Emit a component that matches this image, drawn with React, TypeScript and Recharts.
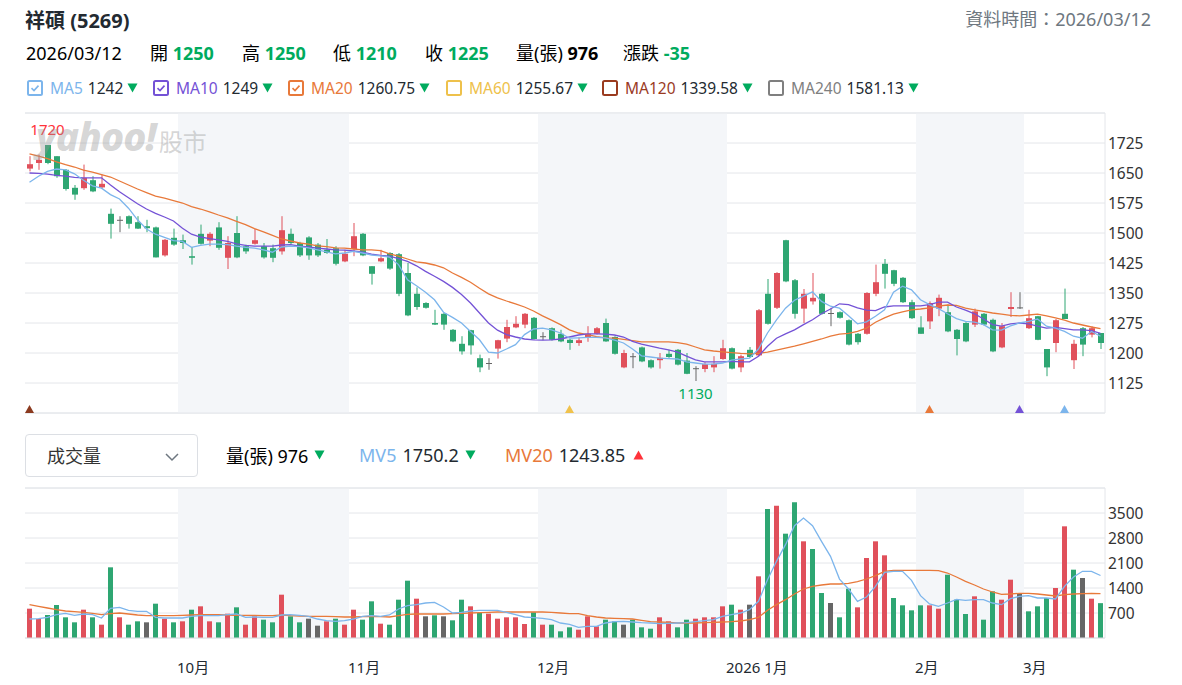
import React from 'react';
import {
  ComposedChart, Bar, Line, XAxis, YAxis, CartesianGrid,
  ReferenceArea, ReferenceLine, ReferenceDot, Cell,
} from 'recharts';

const FONT = '"Noto Sans", "Noto Sans CJK TC", sans-serif';
const RED = '#e0505b';
const GREEN = '#2ea672';
const GRAY = '#666666';
const UP_TXT = '#ff333a';
const DOWN_TXT = '#00ab5e';
const GRID = '#e4e6ea';
const SHADE = '#f4f6f9';
const MA5_C = '#7cb5ec';
const MA10_C = '#7452d6';
const MA20_C = '#e8793a';

// daily candles, 120 trading days ending 2026/03/12
const OPEN = [1661,1675,1720,1692,1658,1613,1612,1632,1614,1548, 1533,1542,1527,1517,1514,1444,1488,1482,1442,1498,
  1481,1514,1438,1500,1467,1473,1467,1462,1454,1498, 1475,1489,1471,1458,1462,1429,1460,1498,1417,1429,
  1450,1447,1400,1348,1325,1275,1298,1258,1223,1257, 1187,1175,1211,1236,1264,1271,1288,1242,1262,1248,
  1233,1225,1239,1248,1275,1240,1164,1192,1214,1182, 1182,1198,1208,1181,1162,1160,1164,1185,1212,1164,
  1208,1194,1348,1313,1482,1382,1311,1329,1348,1300, 1302,1282,1248,1248,1348,1423,1407,1388,1327,1264,
  1279,1311,1302,1258,1275,1271,1298,1283,1214,1310, 1314,1262,1292,1210,1225,1298,1182,1262,1246,1250];
const HIGH = [1692,1696,1720,1692,1660,1620,1671,1642,1646,1561, 1542,1544,1542,1533,1516,1485,1511,1496,1465,1521,
  1502,1527,1492,1542,1471,1510,1475,1471,1542,1511, 1478,1492,1475,1485,1467,1458,1525,1500,1417,1458,
  1452,1450,1425,1364,1327,1308,1300,1260,1242,1258, 1196,1187,1233,1283,1292,1300,1290,1252,1264,1258,
  1235,1239,1267,1265,1286,1242,1208,1200,1216,1184, 1200,1208,1210,1200,1167,1177,1192,1233,1214,1196,
  1215,1310,1385,1402,1483,1385,1360,1400,1350,1313, 1304,1284,1250,1352,1421,1435,1408,1390,1333,1292,
  1329,1346,1321,1260,1277,1311,1300,1286,1275,1352, 1352,1308,1293,1210,1285,1361,1233,1265,1267,1250];
const LOW = [1654,1658,1672,1638,1606,1583,1608,1602,1610,1486, 1502,1511,1510,1502,1439,1441,1468,1460,1421,1471,
  1467,1458,1410,1437,1448,1471,1436,1427,1446,1471, 1440,1433,1440,1448,1419,1427,1442,1442,1371,1427,
  1408,1342,1292,1308,1311,1270,1258,1227,1196,1196, 1152,1158,1186,1227,1262,1262,1233,1232,1231,1227,
  1208,1218,1228,1246,1228,1196,1162,1162,1177,1161, 1161,1188,1169,1147,1130,1152,1152,1183,1159,1152,
  1188,1192,1271,1310,1377,1286,1275,1321,1296,1267, 1286,1219,1221,1246,1342,1361,1367,1325,1285,1248,
  1260,1292,1252,1194,1227,1265,1269,1202,1212,1290, 1310,1260,1232,1142,1202,1285,1160,1192,1239,1210];
const CLOSE = [1672,1683,1675,1642,1610,1596,1638,1604,1623,1523, 1533,1523,1511,1512,1439,1483,1471,1475,1438,1473,
  1498,1463,1475,1439,1454,1482,1439,1438,1507,1475, 1444,1444,1444,1450,1423,1448,1492,1444,1398,1437,
  1411,1348,1294,1315,1313,1271,1271,1229,1204,1219, 1164,1175,1232,1265,1273,1298,1235,1242,1233,1229,
  1225,1232,1248,1262,1229,1198,1200,1192,1179,1164, 1188,1190,1171,1148,1162,1172,1173,1212,1161,1192,
  1190,1307,1273,1400,1379,1298,1348,1338,1298,1300, 1288,1221,1227,1350,1377,1398,1373,1327,1287,1248,
  1325,1338,1254,1235,1229,1304,1271,1204,1267,1315, 1314,1287,1233,1164,1282,1285,1223,1221,1262,1225];

const MA5 = [1627,1642,1654,1660,1658,1648,1632,1618,1612,1596, 1585,1562,1533,1510,1497,1489,1481,1479,1464,1469,
  1472,1472,1471,1467,1464,1462,1458,1452,1465,1467, 1466,1463,1458,1453,1448,1450,1454,1450,1445,1443,
  1440,1421,1383,1368,1352,1333,1302,1289,1275,1254, 1233,1202,1200,1210,1221,1246,1260,1262,1258,1250,
  1237,1238,1239,1239,1238,1232,1225,1210,1193,1190, 1187,1186,1185,1178,1175,1172,1172,1175,1182,1185,
  1187,1210,1250,1283,1312,1332,1342,1353,1329,1317, 1312,1293,1273,1278,1292,1308,1352,1367,1358,1333,
  1321,1311,1298,1286,1279,1277,1271,1258,1257,1268, 1275,1279,1285,1267,1262,1254,1242,1237,1254,1242];
const MA10 = [1650,1649,1647,1644,1642,1639,1638,1638,1638,1620, 1603,1588,1573,1560,1549,1540,1530,1512,1497,1490,
  1486,1483,1479,1473,1469,1467,1467,1467,1470,1471, 1467,1465,1462,1460,1458,1457,1455,1452,1447,1444,
  1442,1436,1429,1418,1404,1392,1379,1364,1346,1325, 1300,1275,1257,1246,1240,1235,1233,1232,1233,1235,
  1240,1245,1248,1248,1247,1245,1240,1229,1222,1217, 1212,1208,1202,1192,1183,1178,1178,1178,1179,1178,
  1178,1192,1217,1237,1248,1258,1271,1283,1298,1310, 1323,1321,1313,1307,1306,1315,1318,1318,1318,1318,
  1321,1327,1327,1315,1307,1298,1285,1271,1267,1273, 1275,1273,1267,1262,1264,1261,1258,1258,1256,1249];
const MA20 = [1698,1692,1686,1678,1671,1665,1657,1652,1646,1640, 1630,1620,1610,1601,1592,1587,1581,1575,1566,1560,
  1553,1545,1538,1529,1521,1511,1503,1494,1485,1480, 1475,1472,1468,1466,1463,1462,1460,1458,1458,1456,
  1448,1442,1435,1428,1425,1420,1413,1400,1389,1377, 1362,1348,1338,1330,1323,1315,1305,1293,1282,1271,
  1258,1250,1246,1241,1238,1237,1234,1231,1228,1228, 1228,1228,1226,1222,1215,1208,1205,1203,1201,1199,
  1198,1199,1202,1207,1212,1217,1223,1229,1235,1242, 1247,1249,1254,1262,1277,1288,1297,1303,1308,1310,
  1313,1317,1320,1319,1312,1308,1304,1300,1297,1294, 1293,1295,1297,1293,1288,1282,1275,1270,1265,1261];

// volume (張), and its colour: u = up vs previous close, d = down, n = flat
const VOLUME = [821,532,644,924,579,439,793,579,373,1979, 579,373,467,439,961,541,439,467,793,887,
  467,439,681,859,373,607,513,439,1213,607, 439,541,345,467,541,373,793,513,1027,401,
  373,1073,1605,1101,607,635,607,495,1073,887, 700,681,541,579,579,392,719,373,373,187,
  299,233,607,327,513,467,373,513,299,261, 579,467,299,513,541,579,579,887,933,793,
  933,1727,3612,3705,2921,3799,2707,2492,1260,980, 579,1381,859,2240,2707,2315,1120,915,775,915,
  915,821,1773,1073,672,1167,513,1307,1073,1633, 1232,747,887,1120,1400,3127,1913,1680,1101,976];
const VOL_DIR = ('uuddddudud uddndududu ududuuddud dnnuduuddu dddundnddu ' +
  'duuuuududd duuuddnddd uudduuuudu nududduddn dduuuudddd uudddudduu nddduudnud').replace(/ /g, '');
const MV5 = [532,541,579,653,691,635,672,653,560,831, 859,775,747,747,579,560,560,560,607,625,
  625,625,653,672,579,588,579,579,644,653, 635,607,532,485,467,485,532,607,625,607,
  644,812,905,933,980,999,868,700,719,756, 775,775,775,719,653,588,569,551,513,420,
  383,299,327,327,420,457,467,448,429,420, 401,411,420,429,457,485,513,607,653,700,
  793,1027,1633,2147,2613,3145,3360,3145,2707,2287, 1650,1372,1027,1148,1447,1839,1867,1867,1615,1185,
  952,887,980,1083,1055,1073,1073,980,933,1101, 1167,1185,1120,1120,1092,1447,1708,1867,1867,1750];
const MV20 = [933,887,840,793,756,737,719,691,653,681, 700,672,644,625,625,625,625,635,644,653,
  653,653,644,635,635,635,625,625,644,625, 616,607,607,607,597,588,588,597,607,597,
  588,625,663,672,672,672,672,681,691,700, 709,719,728,728,728,728,728,728,719,700,
  681,681,625,588,560,551,541,532,495,457, 448,439,420,420,420,429,439,448,457,476,
  513,579,775,933,1073,1232,1372,1447,1484,1512, 1512,1531,1577,1652,1745,1867,1895,1895,1895,1895,
  1895,1885,1820,1708,1587,1484,1372,1288,1223,1232, 1251,1251,1232,1204,1176,1213,1232,1241,1251,1244];

const MONTH_START = [17, 36, 57, 78, 99, 111];
const MONTH_LABEL = ['10月', '11月', '12月', '2026 1月', '2月', '3月'];
const SHADED_MONTHS = [[17, 35], [57, 77], [99, 110]];
const PRICE_TICKS = [1125, 1200, 1275, 1350, 1425, 1500, 1575, 1650, 1725];
const PRICE_DOMAIN = [1050, 1800];
const VOL_TICKS = [700, 1400, 2100, 2800, 3500];
const VOL_DOMAIN = [0, 4200];
const SIGNAL_IDX = [0, 60, 100, 110, 115];
const SIGNAL_COLOR = ['#8b3a1f', '#f0c24c', '#e8793a', '#7452d6', '#7cb5ec'];

const QUOTE_DATE = '2026/03/12';
const QUOTE_LABELS = ['開', '高', '低', '收', '量(張)', '漲跌'];
const QUOTE_VALUES = ['1250', '1250', '1210', '1225', '976', '-35'];
const QUOTE_COLORS = [DOWN_TXT, DOWN_TXT, DOWN_TXT, DOWN_TXT, '#000', DOWN_TXT];
const QUOTE_LEFT = [150, 242, 333, 425, 516, 623];

const MA_NAMES = ['MA5', 'MA10', 'MA20', 'MA60', 'MA120', 'MA240'];
const MA_VALUES = ['1242', '1249', '1260.75', '1255.67', '1339.58', '1581.13'];
const MA_COLORS = [MA5_C, MA10_C, MA20_C, '#eec14b', '#9a3b1f', '#7f7f7f'];
const MA_CHECKED = [true, true, true, false, false, false];
const MA_LEFT = [27, 153, 288, 446, 602, 768];

const data = OPEN.map((open, i) => {
  const s = SIGNAL_IDX.indexOf(i);
  return {
    idx: i, open, high: HIGH[i], low: LOW[i], close: CLOSE[i],
    range: [LOW[i], HIGH[i]],
    ma5: MA5[i], ma10: MA10[i], ma20: MA20[i],
    vol: VOLUME[i], dir: VOL_DIR[i], mv5: MV5[i], mv20: MV20[i],
    signal: s >= 0 ? PRICE_DOMAIN[0] : null,
    signalColor: s >= 0 ? SIGNAL_COLOR[s] : null,
  };
});

const hiIdx = HIGH.indexOf(Math.max(...HIGH));
const loIdx = LOW.indexOf(Math.min(...LOW));

function Candle(props: any) {
  const { x, y, width, height, payload } = props;
  if (!payload || height == null) return null;
  const { open, close, high, low } = payload;
  const color = close > open ? RED : close < open ? GREEN : GRAY;
  const k = height / (high - low);
  const cx = x + width / 2;
  const top = y + (high - Math.max(open, close)) * k;
  const h = Math.max(Math.abs(open - close) * k, 1);
  return (
    <g>
      <line x1={cx} x2={cx} y1={y} y2={y + height} stroke={color} strokeWidth={1} />
      <rect x={x} y={top} width={width} height={h} fill={color} />
    </g>
  );
}

function SignalDot(props: any) {
  const { cx, cy, payload, index } = props;
  if (!payload || payload.signal == null || cy == null) return <g key={index} />;
  return <path key={index} d={`M${cx - 4.5},${cy} L${cx + 4.5},${cy} L${cx},${cy - 8} Z`} fill={payload.signalColor} />;
}

function MonthTick(props: any) {
  const { x, y, payload } = props;
  const k = MONTH_START.indexOf(payload.value);
  if (k < 0) return null;
  return (
    <text x={x - 5.5} y={y + 27} textAnchor="start" dominantBaseline="central" fontSize={15} fill="#232a31" fontFamily={FONT}>
      {MONTH_LABEL[k]}
    </text>
  );
}

function Tri({ color, up }: { color: string; up?: boolean }) {
  return (
    <svg width={11} height={10} style={{ display: 'block' }}>
      <path d={up ? 'M0.5,9.5 L10.5,9.5 L5.5,0.5 Z' : 'M0.5,0.5 L10.5,0.5 L5.5,9.5 Z'} fill={color} />
    </svg>
  );
}

function Check({ color, checked }: { color: string; checked: boolean }) {
  return (
    <svg width={16} height={16} style={{ display: 'block' }}>
      <rect x={1} y={1} width={14} height={14} rx={1.5} fill="#fff" stroke={color} strokeWidth={2} />
      {checked && <polyline points="4.5,8.2 7,10.6 11.5,5.6" fill="none" stroke={color} strokeWidth={1.6} />}
    </svg>
  );
}

const yTick = { fontSize: 15.5, fill: '#333', fontFamily: FONT };

export default function App() {
  return (
    <div style={{ position: 'absolute', left: 0, top: 0, width: 1182, height: 685, background: '#fff', fontFamily: FONT, color: '#232a31', overflow: 'hidden' }}>
      {/* header */}
      <div style={{ position: 'absolute', left: 25, top: 8, fontSize: 20, fontWeight: 700, lineHeight: '26px' }}>祥碩 (5269)</div>
      <div style={{ position: 'absolute', right: 31, top: 6, fontSize: 18, color: '#6e7780', lineHeight: '26px' }}>資料時間：{QUOTE_DATE}</div>
      <div style={{ position: 'absolute', left: 26, top: 40, fontSize: 18, lineHeight: '26px', color: '#000' }}>{QUOTE_DATE}</div>
      {QUOTE_LABELS.map((l, i) => (
        <div key={l} style={{ position: 'absolute', left: QUOTE_LEFT[i], top: 40, fontSize: 18, lineHeight: '26px', color: '#000', whiteSpace: 'nowrap' }}>
          {l} <b style={{ color: QUOTE_COLORS[i] }}>{QUOTE_VALUES[i]}</b>
        </div>
      ))}
      {MA_NAMES.map((n, i) => (
        <div key={n} style={{ position: 'absolute', left: MA_LEFT[i], top: 78, height: 20, display: 'flex', alignItems: 'center', fontSize: 15.5, whiteSpace: 'nowrap' }}>
          <Check color={MA_COLORS[i]} checked={MA_CHECKED[i]} />
          <span style={{ color: MA_COLORS[i], marginLeft: 7 }}>{n}</span>
          <span style={{ color: '#232a31', marginLeft: 5 }}>{MA_VALUES[i]}</span>
          <span style={{ marginLeft: 4 }}><Tri color={DOWN_TXT} /></span>
        </div>
      ))}

      {/* price chart */}
      <div style={{ position: 'absolute', left: 0, top: 103 }}>
        <ComposedChart width={1182} height={315} data={data} margin={{ top: 10, right: 0, bottom: 5, left: 25 }}>
          {SHADED_MONTHS.map(([a, b]) => (
            <ReferenceArea key={a} x1={a} x2={b} fill={SHADE} fillOpacity={1} stroke="none" ifOverflow="visible" />
          ))}
          <CartesianGrid vertical={false} stroke={GRID} />
          <XAxis dataKey="idx" type="category" hide />
          <YAxis orientation="right" domain={PRICE_DOMAIN} ticks={PRICE_TICKS} width={77} tickSize={0} tickMargin={3}
            tickLine={false} axisLine={{ stroke: GRID }} tick={yTick} allowDataOverflow />
          <ReferenceLine y={PRICE_DOMAIN[1]} stroke={GRID} />
          <ReferenceLine y={PRICE_DOMAIN[0]} stroke={GRID} />
          <Bar dataKey="range" barSize={6} shape={(p: any) => <Candle {...p} />} isAnimationActive={false} />
          <Line dataKey="ma20" stroke={MA20_C} strokeWidth={1.3} dot={false} isAnimationActive={false} />
          <Line dataKey="ma10" stroke={MA10_C} strokeWidth={1.3} dot={false} isAnimationActive={false} />
          <Line dataKey="ma5" stroke={MA5_C} strokeWidth={1.3} dot={false} isAnimationActive={false} />
          <Line dataKey="signal" stroke="none" dot={(p: any) => <SignalDot {...p} />} activeDot={false} isAnimationActive={false} />
          <ReferenceDot x={hiIdx} y={HIGH[hiIdx]} r={0} stroke="none" fill="none"
            label={{ value: String(HIGH[hiIdx]), position: 'top', offset: 10, fill: UP_TXT, fontSize: 15, fontFamily: FONT }} />
          <ReferenceDot x={loIdx} y={LOW[loIdx]} r={0} stroke="none" fill="none"
            label={{ value: String(LOW[loIdx]), position: 'bottom', offset: 7, fill: DOWN_TXT, fontSize: 15, fontFamily: FONT }} />
        </ComposedChart>
      </div>

      {/* watermark */}
      <div style={{ position: 'absolute', left: 36, top: 114, color: 'rgba(150,150,150,0.4)', whiteSpace: 'nowrap', pointerEvents: 'none', lineHeight: '44px' }}>
        <span style={{ fontSize: 39, fontWeight: 800, fontStyle: 'italic', letterSpacing: -1 }}>yahoo!</span>
        <span style={{ fontSize: 24, marginLeft: 3 }}>股市</span>
      </div>

      {/* volume header */}
      <div style={{ position: 'absolute', left: 25, top: 434, width: 171, height: 41, border: '1px solid #dcdfe4', borderRadius: 4, background: '#fff' }}>
        <span style={{ position: 'absolute', left: 21, top: 8, fontSize: 18, lineHeight: '26px', color: '#333' }}>成交量</span>
        <svg width={14} height={10} style={{ position: 'absolute', left: 139, top: 17 }}>
          <polyline points="1,2 7,8 13,2" fill="none" stroke="#6e7780" strokeWidth={1.5} />
        </svg>
      </div>
      <div style={{ position: 'absolute', left: 226, top: 443, height: 24, display: 'flex', alignItems: 'center', fontSize: 18, whiteSpace: 'nowrap' }}>
        <span style={{ color: '#000' }}>量(張) 976</span>
        <span style={{ marginLeft: 6 }}><Tri color={DOWN_TXT} /></span>
      </div>
      <div style={{ position: 'absolute', left: 359, top: 443, height: 24, display: 'flex', alignItems: 'center', fontSize: 18, whiteSpace: 'nowrap' }}>
        <span style={{ color: MA5_C }}>MV5</span>
        <span style={{ marginLeft: 6, color: '#232a31' }}>1750.2</span>
        <span style={{ marginLeft: 6 }}><Tri color={DOWN_TXT} /></span>
      </div>
      <div style={{ position: 'absolute', left: 505, top: 443, height: 24, display: 'flex', alignItems: 'center', fontSize: 18, whiteSpace: 'nowrap' }}>
        <span style={{ color: MA20_C }}>MV20</span>
        <span style={{ marginLeft: 6, color: '#232a31' }}>1243.85</span>
        <span style={{ marginLeft: 8 }}><Tri color={UP_TXT} up /></span>
      </div>

      {/* volume chart */}
      <div style={{ position: 'absolute', left: 0, top: 478 }}>
        <ComposedChart width={1182} height={200} data={data} margin={{ top: 10, right: 0, bottom: 0, left: 25 }}>
          {SHADED_MONTHS.map(([a, b]) => (
            <ReferenceArea key={a} x1={a} x2={b} fill={SHADE} fillOpacity={1} stroke="none" ifOverflow="visible" />
          ))}
          <CartesianGrid vertical={false} stroke={GRID} />
          <XAxis dataKey="idx" type="category" ticks={MONTH_START} interval={0} tick={(p: any) => <MonthTick {...p} />}
            tickLine={false} tickSize={0} axisLine={{ stroke: '#dcdfe3' }} height={40} />
          <YAxis orientation="right" domain={VOL_DOMAIN} ticks={VOL_TICKS} width={77} tickSize={0} tickMargin={3}
            tickLine={false} axisLine={{ stroke: GRID }} tick={yTick} allowDataOverflow />
          <ReferenceLine y={VOL_DOMAIN[1]} stroke={GRID} />
          <Bar dataKey="vol" barSize={5} isAnimationActive={false}>
            {data.map(d => (
              <Cell key={d.idx} fill={d.dir === 'u' ? RED : d.dir === 'd' ? GREEN : GRAY} />
            ))}
          </Bar>
          <Line dataKey="mv20" stroke={MA20_C} strokeWidth={1.3} dot={false} isAnimationActive={false} />
          <Line dataKey="mv5" stroke={MA5_C} strokeWidth={1.3} dot={false} isAnimationActive={false} />
        </ComposedChart>
      </div>
    </div>
  );
}
